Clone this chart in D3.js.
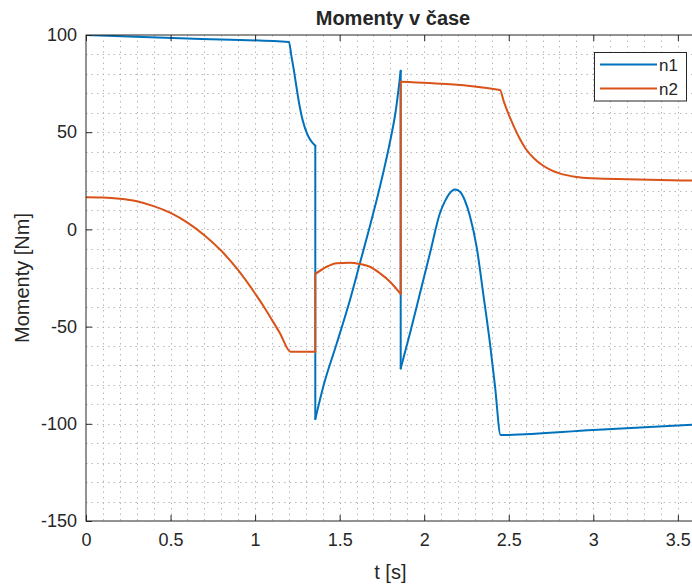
<!DOCTYPE html>
<html>
<head>
<meta charset="utf-8">
<script src="https://cdn.jsdelivr.net/npm/d3@7"></script>
<style>
  html, body { margin: 0; padding: 0; background: #ffffff; }
  svg { display: block; }
  text { font-family: "Liberation Sans", Arial, Helvetica, sans-serif; fill: #262626; }
</style>
</head>
<body>
<svg id="chart" width="692" height="586"></svg>
<script>
// Torque of the two drives over time
const chartTitle = "Momenty v čase";
const xLabel = "t [s]";
const yLabel = "Momenty [Nm]";
const seriesNames = ["n1", "n2"];

const xTicks = [0, 0.5, 1, 1.5, 2, 2.5, 3, 3.5];
const yTicks = [-150, -100, -50, 0, 50, 100];

// n1: time [s] and torque [Nm]; a repeated time is a step change
const n1T = [0, 0.6, 1.2, 1.215, 1.23, 1.245, 1.26, 1.275, 1.29, 1.305, 1.32, 1.335, 1.356,
             1.356, 1.403, 1.483, 1.561, 1.62, 1.68, 1.72, 1.76, 1.8, 1.83, 1.861,
             1.861, 1.916, 1.975, 2.034, 2.093, 2.12, 2.15, 2.182, 2.21, 2.24, 2.27, 2.31,
             2.349, 2.389, 2.419, 2.452, 3.0, 3.6];
const n1V = [100, 98.2, 96.4, 89, 81.5, 73, 65, 58.5, 53.5, 49.8, 47, 45, 43,
             -97.5, -80.9, -58.6, -36.3, -17.3, 2, 15.5, 30, 46, 60, 81.6,
             -71.5, -53.4, -32.9, -12.3, 8.3, 14, 18.5, 20.5, 19.5, 15, 7, -9,
             -33, -58.6, -80.9, -105.8, -103.2, -100.4];

// n2: time [s] and torque [Nm]
const n2T = [0, 0.1, 0.2, 0.3, 0.4, 0.5, 0.6, 0.7, 0.8, 0.9, 1.0, 1.05, 1.088, 1.147, 1.21, 1.356,
             1.356, 1.423, 1.483, 1.561, 1.620, 1.679, 1.739, 1.798, 1.861,
             1.861, 2.448, 2.47, 2.5, 2.53, 2.56, 2.6, 2.65, 2.7, 2.75, 2.8, 2.9, 3.0, 3.2, 3.6];
const n2V = [16.5, 16.4, 15.8, 14.5, 12, 8.5, 3.5, -3, -11, -21, -33, -39.5, -44.9, -53.4, -63, -63,
             -22.9, -19.2, -17.4, -17.1, -17.8, -19.2, -22.6, -26.9, -33.2,
             76, 71.7, 66, 59, 53, 47.5, 41.5, 36.5, 33, 30.5, 28.8, 27, 26.3, 25.8, 25.1];

const colors = ["#0072BD", "#D95319"];

const svg = d3.select("#chart");
const plotLeft = 86, plotTop = 35, plotBottom = 521, pxPerSecond = 169.1;
const xMax = 3.6;
const x = d3.scaleLinear().domain([0, xMax]).range([plotLeft, plotLeft + xMax * pxPerSecond]);
const y = d3.scaleLinear().domain([-150, 100]).range([plotBottom, plotTop]);
const plotRight = x(xMax);

// clip to the axes area
svg.append("defs").append("clipPath").attr("id", "plotClip")
  .append("rect").attr("x", plotLeft).attr("y", plotTop)
  .attr("width", plotRight - plotLeft).attr("height", plotBottom - plotTop);

// dotted grid (every 0.1 s and every 10 Nm)
const grid = svg.append("g").attr("clip-path", "url(#plotClip)")
  .attr("stroke", "#b8b8b8").attr("stroke-width", 1).attr("stroke-dasharray", "1.5,4");
d3.range(1, Math.round(xMax * 10)).forEach(i => {
  const xv = Math.round(x(i / 10)) + 0.5;
  grid.append("line").attr("x1", xv).attr("x2", xv).attr("y1", plotTop).attr("y2", plotBottom);
});
d3.range(-14, 10).forEach(i => {
  const yv = Math.round(y(i * 10)) + 0.5;
  grid.append("line").attr("x1", plotLeft).attr("x2", plotRight).attr("y1", yv).attr("y2", yv);
});

// curves: smooth between steps, straight vertical at steps
function drawSeries(ts, vs, color) {
  const pts = ts.map((t, i) => [t, vs[i]]);
  const segments = [];
  let cur = [pts[0]];
  for (let i = 1; i < pts.length; i++) {
    if (pts[i][0] === pts[i - 1][0]) { segments.push(cur); cur = [pts[i]]; }
    else cur.push(pts[i]);
  }
  segments.push(cur);
  const g = svg.append("g").attr("clip-path", "url(#plotClip)")
    .attr("fill", "none").attr("stroke", color).attr("stroke-width", 2)
    .attr("stroke-linejoin", "round").attr("stroke-linecap", "round");
  const line = d3.line().x(d => x(d[0])).y(d => y(d[1])).curve(d3.curveMonotoneX);
  segments.forEach((seg, k) => {
    g.append("path").attr("d", line(seg));
    if (k > 0) {
      const a = segments[k - 1][segments[k - 1].length - 1], b = seg[0];
      g.append("line").attr("x1", x(a[0])).attr("y1", y(a[1])).attr("x2", x(b[0])).attr("y2", y(b[1]));
    }
  });
}
drawSeries(n1T, n1V, colors[0]);
drawSeries(n2T, n2V, colors[1]);

// axes box
svg.append("rect").attr("x", plotLeft).attr("y", plotTop)
  .attr("width", plotRight - plotLeft).attr("height", plotBottom - plotTop)
  .attr("fill", "none").attr("stroke", "#262626").attr("stroke-width", 1);

const fmt = d => String(d);
const xAxis = svg.append("g").attr("transform", `translate(0,${plotBottom})`)
  .call(d3.axisBottom(x).tickValues(xTicks).tickFormat(fmt).tickSizeInner(-6).tickSizeOuter(0).tickPadding(12));
const xTop = svg.append("g").attr("transform", `translate(0,${plotTop})`)
  .call(d3.axisTop(x).tickValues(xTicks).tickFormat("").tickSizeInner(-6).tickSizeOuter(0));
const yAxis = svg.append("g").attr("transform", `translate(${plotLeft},0)`)
  .call(d3.axisLeft(y).tickValues(yTicks).tickFormat(fmt).tickSizeInner(-6).tickSizeOuter(0).tickPadding(9));
[xAxis, xTop, yAxis].forEach(a => {
  a.select(".domain").remove();
  a.selectAll(".tick line").attr("stroke", "#262626");
  a.selectAll(".tick text").attr("font-size", 18).attr("fill", "#262626")
    .style("font-family", "'Liberation Sans', Arial, sans-serif");
});

// titles
svg.append("text").attr("x", 393).attr("y", 25).attr("text-anchor", "middle")
  .attr("font-size", 20).attr("font-weight", "bold").attr("fill", "#000").text(chartTitle);
svg.append("text").attr("x", (plotLeft + plotRight) / 2).attr("y", 579).attr("text-anchor", "middle")
  .attr("font-size", 20).text(xLabel);
svg.append("text").attr("transform", `translate(29,${(plotTop + plotBottom) / 2}) rotate(-90)`)
  .attr("text-anchor", "middle").attr("font-size", 20).text(yLabel);

// legend
const lg = svg.append("g");
lg.append("rect").attr("x", 594.5).attr("y", 52.5).attr("width", 92).attr("height", 48.5)
  .attr("fill", "#fff").attr("stroke", "#262626").attr("stroke-width", 1);
seriesNames.forEach((name, i) => {
  const ly = 64.5 + i * 24;
  lg.append("line").attr("x1", 600).attr("x2", 657).attr("y1", ly).attr("y2", ly)
    .attr("stroke", colors[i]).attr("stroke-width", 2);
  lg.append("text").attr("x", 659).attr("y", ly).attr("dy", "0.36em")
    .attr("font-size", 17).text(name);
});
</script>
</body>
</html>
